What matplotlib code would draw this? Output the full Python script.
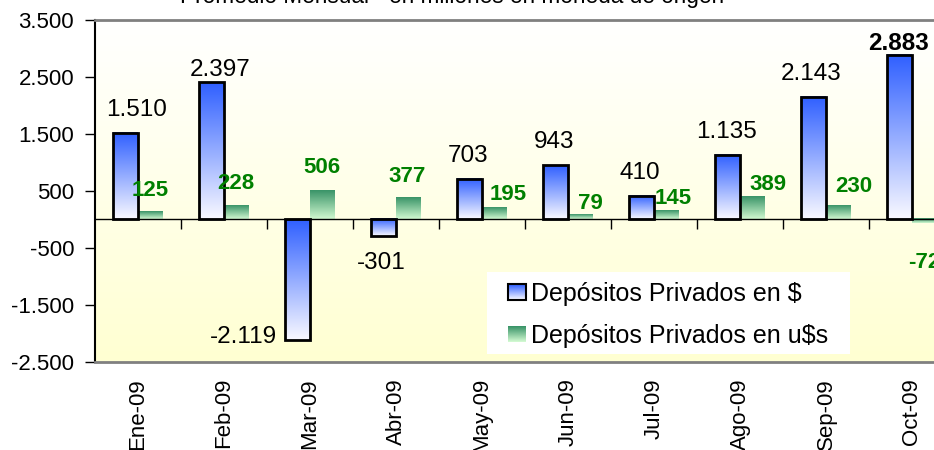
import numpy as np
import matplotlib.pyplot as plt
from matplotlib.colors import to_rgb
from matplotlib.legend_handler import HandlerBase
from matplotlib.patches import Rectangle
from matplotlib.transforms import blended_transform_factory

plt.rcParams['font.family'] = ['Liberation Sans', 'DejaVu Sans']

meses = ['Ene-09', 'Feb-09', 'Mar-09', 'Abr-09', 'May-09', 'Jun-09',
         'Jul-09', 'Ago-09', 'Sep-09', 'Oct-09']
dep_pesos = [1510, 2397, -2119, -301, 703, 943, 410, 1135, 2143, 2883]
dep_dolares = [125, 228, 506, 377, 195, 79, 145, 389, 230, -72]
y_ticks = [-2500, -1500, -500, 500, 1500, 2500, 3500]

titulo = 'Promedio Mensual - en millones en moneda de origen'
leyenda = ['Depósitos Privados en $', 'Depósitos Privados en u$s']

# colores (arriba, abajo) de los degradados
AZUL = ('#3060ff', '#f8f8ff')
VERDE = ('#3a9468', '#d0f8d0')
FONDO = ('#ffffff', '#ffffd2')

# desplazamientos de las etiquetas (pixeles), como en el original
az_dx = [11, 9, -21, -2, -1, -1, -2, -1, -2, -1]
az_dy = [17, 6, 3, -16, 17, 17, 17, 17, 17, 5]
ve_dx = [0, -1, -1, -1, 14, 10, 7, 16, 15, 0]
ve_dy = [16, 17, 17, 16, 8, 6, 7, 7, 14, -29]


def gradiente(c_top, c_bot, n=64):
    a = np.array(to_rgb(c_top))
    b = np.array(to_rgb(c_bot))
    t = np.linspace(0, 1, n)[:, None]
    return (a * (1 - t) + b * t)[:, None, :]


def fmt(v):
    return f'{v:,}'.replace(',', '.')


class GradHandler(HandlerBase):
    def __init__(self, cols, edge=None):
        super().__init__()
        self.cols = cols
        self.edge = edge

    def create_artists(self, legend, orig_handle, xdescent, ydescent,
                       width, height, fontsize, trans):
        n = 16
        g = gradiente(*self.cols, n)[:, 0, :]
        arts = []
        for k in range(n):
            arts.append(Rectangle((-xdescent, -ydescent + height * (1 - (k + 1) / n)),
                                  width, height / n, facecolor=g[k],
                                  edgecolor='none', transform=trans))
        if self.edge:
            arts.append(Rectangle((-xdescent, -ydescent), width, height, fill=False,
                                  edgecolor=self.edge, lw=1.5, transform=trans))
        return arts


fig = plt.figure(figsize=(9.34, 4.5), dpi=100)
ax = fig.add_axes([95 / 934, 88 / 450, 860 / 934, 342.5 / 450])

x = np.arange(len(meses))
w = 0.29

# fondo degradado
ax.imshow(gradiente(*FONDO), extent=[0, 1, 0, 1], transform=ax.transAxes,
          aspect='auto', zorder=0)

b_az = ax.bar(x - w / 2, dep_pesos, w, facecolor='none', edgecolor='black',
              lw=2, zorder=3)
b_ve = ax.bar(x + w / 2, dep_dolares, w, facecolor='none', edgecolor='none',
              zorder=3)

for bars, cols in [(b_az, AZUL), (b_ve, VERDE)]:
    for p in bars:
        x0, y0, pw, ph = p.get_x(), p.get_y(), p.get_width(), p.get_height()
        ax.imshow(gradiente(*cols), extent=[x0, x0 + pw, min(y0, y0 + ph), max(y0, y0 + ph)],
                  aspect='auto', zorder=2, interpolation='bilinear')

ax.set_xlim(-0.5, len(meses) - 0.5)
ax.set_ylim(-2500, 3500)

# etiquetas de datos
for i, v in enumerate(dep_pesos):
    ha = 'right' if az_dx[i] < -10 else 'center'
    va = 'baseline' if az_dy[i] > 0 else 'top'
    if ha == 'right':
        va = 'center'
    ax.annotate(fmt(v), (x[i] - w / 2, v), xytext=(az_dx[i], az_dy[i]),
                textcoords='offset pixels', ha=ha, va=va, fontsize=17.5,
                fontweight='bold' if i == len(meses) - 1 else 'normal',
                color='black', zorder=5)
for i, v in enumerate(dep_dolares):
    va = 'baseline' if ve_dy[i] > 0 else 'top'
    ax.annotate(fmt(v), (x[i] + w / 2, v), xytext=(ve_dx[i], ve_dy[i]),
                textcoords='offset pixels', ha='center', va=va, fontsize=16,
                fontweight='bold', color='#008000', zorder=5)

# ejes
ax.spines['right'].set_visible(False)
ax.spines['top'].set_color('#808080')
ax.spines['top'].set_linewidth(2)
ax.spines['left'].set_linewidth(1.5)
ax.spines['bottom'].set_position(('data', 0))
ax.spines['bottom'].set_linewidth(1)
ax.spines['bottom'].set_zorder(4)
ax.axhline(-2500, color='#808080', lw=2, clip_on=False, zorder=5)

ax.set_xticks(x + 0.5)
ax.tick_params(axis='x', length=7, width=1, labelbottom=False)
ax.set_yticks(y_ticks)
ax.set_yticklabels([fmt(t) for t in y_ticks], fontsize=16)
ax.tick_params(axis='y', length=7, width=1, pad=8)

tr = blended_transform_factory(ax.transData, ax.transAxes)
for i, m in enumerate(meses):
    ax.text(x[i], -0.047, m, transform=tr, rotation=90, ha='center', va='top',
            fontsize=16)

fig.text(452 / 934, 1 - 3 / 450, titulo, ha='center', va='baseline', fontsize=16.3)

# caja blanca de la leyenda
ax.add_patch(Rectangle((487 / 934, (450 - 354) / 450), 363 / 934, 82 / 450,
                       transform=fig.transFigure, facecolor='white',
                       edgecolor='none', zorder=5.5, clip_on=False))

h1 = Rectangle((0, 0), 1, 1)
h2 = Rectangle((0, 0), 1, 1)
leg = ax.legend([h1, h2], leyenda, loc='upper left',
                bbox_to_anchor=(508 / 934, 1 - 282 / 450), bbox_transform=fig.transFigure,
                borderaxespad=0, fontsize=18, frameon=False,
                borderpad=0, labelspacing=0.72, handlelength=0.72,
                handleheight=0.64, handletextpad=0.2,
                handler_map={h1: GradHandler(AZUL, 'black'), h2: GradHandler(VERDE)})
leg.set_zorder(6)

fig.savefig('out.png', dpi=100)
